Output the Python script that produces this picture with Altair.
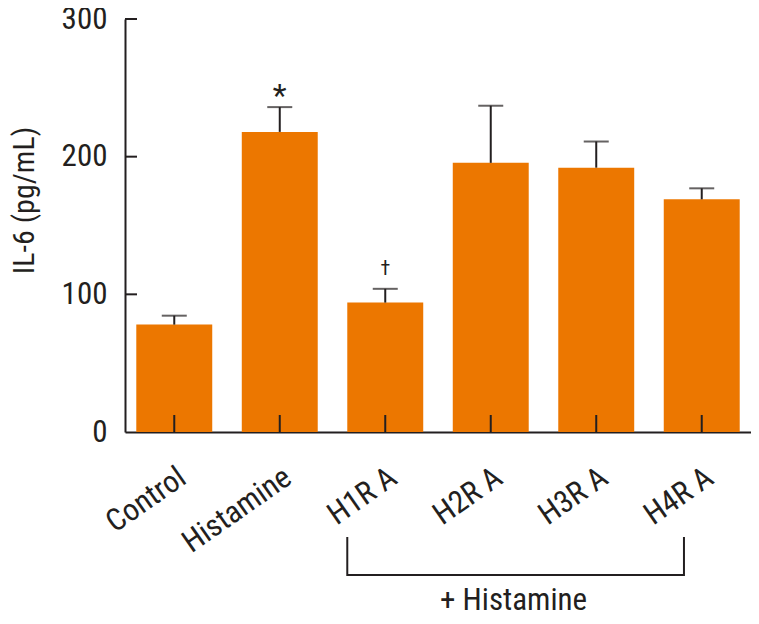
import altair as alt
import pandas as pd

categories = ["Control", "Histamine", "H1R A", "H2R A", "H3R A", "H4R A"]
means = [78, 218, 94, 195.5, 192, 169]
upper = [84.5, 236, 104, 237, 211, 177]
marks = ["", "*", "\u2020", "", "", ""]
y_ticks = [0, 100, 200, 300]
y_title = "IL-6 (pg/mL)"
bracket_label = "+ Histamine"
bracket_start = "H1R A"
bracket_end = "H4R A"
bracket_mid = "H2R A"

df = pd.DataFrame({"group": categories, "mean": means, "upper": upper, "mark": marks})
ticks_df = pd.DataFrame({"v": y_ticks[1:]})
bracket_df = pd.DataFrame({"start": [bracket_start], "end": [bracket_end],
                           "mid": [bracket_mid], "label": [bracket_label]})

W, H = 626, 413
FONT = "Roboto Condensed"
ORANGE = "#EC7700"
INK = "#231F20"

xscale = alt.Scale(domain=categories, paddingInner=0.28, paddingOuter=0.107)
yscale = alt.Scale(domain=[0, 300], nice=False, zero=True)

x_axis = alt.Axis(title=None, labelAngle=-35, labelFontSize=31, labelFont=FONT,
                  labelColor=INK, labelPadding=30, ticks=False, domainColor=INK,
                  domainWidth=2, labelAlign="right", labelBaseline="top", grid=False)
y_axis = alt.Axis(title=y_title, values=y_ticks, ticks=False, labelFontSize=31,
                  labelFont=FONT, labelColor=INK, labelPadding=18, labelFlush=False,
                  labelOverlap=False, domainColor=INK, domainWidth=2, titleFont=FONT,
                  titleFontSize=30, titleFontWeight="normal", titleColor=INK,
                  titleX=-92, titleY=181, titleAngle=-90, titleBaseline="alphabetic",
                  titleAlign="center", grid=False)

base = alt.Chart(df)

bars = base.mark_bar(color=ORANGE).encode(
    x=alt.X("group:N", scale=xscale, axis=x_axis, sort=categories),
    y=alt.Y("mean:Q", scale=yscale, axis=y_axis),
)

err = base.mark_rule(color=INK, strokeWidth=2).encode(
    x=alt.X("group:N"), y=alt.Y("mean:Q"), y2="upper:Q"
)
caps = base.mark_tick(color=INK, thickness=2, size=25).encode(
    x=alt.X("group:N"), y=alt.Y("upper:Q")
)
xticks = base.mark_rule(color=INK, strokeWidth=2).encode(
    x=alt.X("group:N"), y=alt.value(H), y2=alt.value(H - 17)
)
yticks = alt.Chart(ticks_df).mark_rule(color=INK, strokeWidth=2).encode(
    y=alt.Y("v:Q"), x=alt.value(0), x2=alt.value(12)
)
star = base.transform_filter(alt.datum.mark == "*").mark_text(
    font=FONT, fontSize=32, color=INK, baseline="alphabetic", dy=-1
).encode(x=alt.X("group:N"), y=alt.Y("upper:Q"), text="mark:N")
dagger = base.transform_filter(alt.datum.mark == "\u2020").mark_text(
    font=FONT, fontSize=20, color=INK, baseline="alphabetic", dy=-14
).encode(x=alt.X("group:N"), y=alt.Y("upper:Q"), text="mark:N")

bb = alt.Chart(bracket_df)
b_h = bb.mark_rule(color=INK, strokeWidth=2).encode(
    x=alt.X("start:N", bandPosition=0),
    x2=alt.X2("end:N", bandPosition=0.266),
    y=alt.value(H + 143),
)
b_l = bb.mark_rule(color=INK, strokeWidth=2).encode(
    x=alt.X("start:N", bandPosition=0), y=alt.value(H + 105), y2=alt.value(H + 144)
)
b_r = bb.mark_rule(color=INK, strokeWidth=2).encode(
    x=alt.X("end:N", bandPosition=0.266), y=alt.value(H + 105), y2=alt.value(H + 144)
)
b_t = bb.mark_text(font=FONT, fontSize=31, color=INK, baseline="alphabetic", align="center").encode(
    x=alt.X("mid:N", bandPosition=0.8), y=alt.value(H + 178), text="label:N"
)

chart = alt.layer(bars, err, caps, xticks, yticks, star, dagger, b_h, b_l, b_r, b_t).properties(
    width=W, height=H,
    autosize=alt.AutoSizeParams(type="none"),
    padding={"left": 117, "top": 11, "right": 0, "bottom": 184},
    background="white",
).configure_view(stroke=None)

chart.save("out.html", embed_options={"renderer": "svg", "actions": False})
